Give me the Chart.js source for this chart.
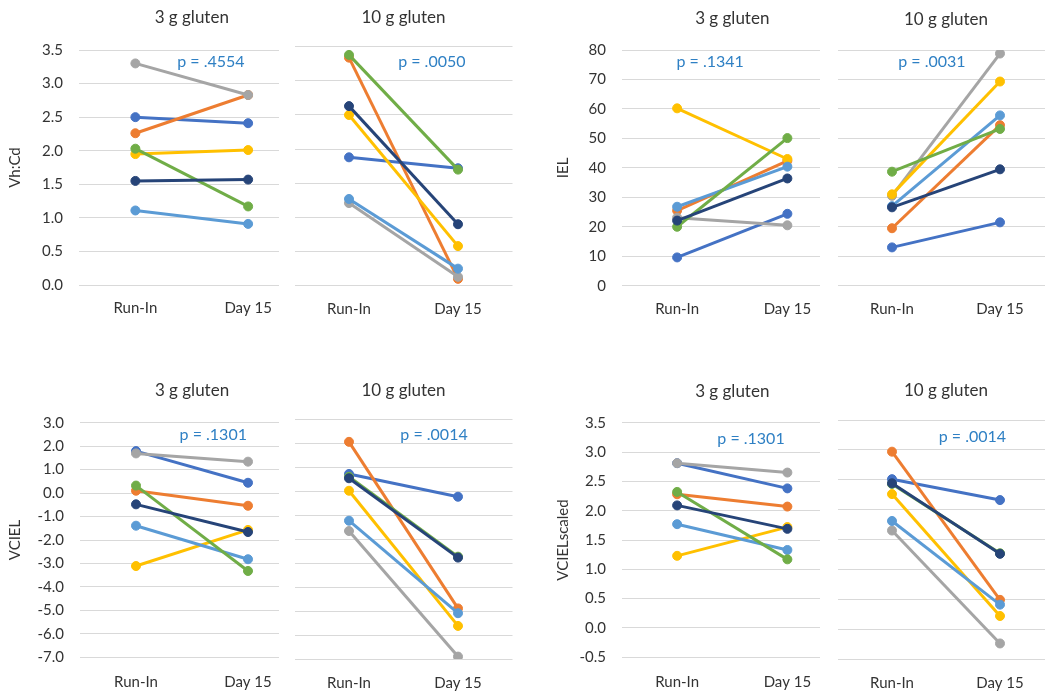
<!DOCTYPE html>
<html>
<head>
<meta charset="utf-8">
<script src="https://cdn.jsdelivr.net/npm/chart.js@4.4.0/dist/chart.umd.min.js"></script>
<style>
  body { margin: 0; width: 1045px; height: 694px; overflow: hidden; background: #fff; position: relative; }
  .box { position: absolute; background: #fff; }
  .box canvas { display: block; }
</style>
</head>
<body>
<div class="box" id="vhcd3"><canvas></canvas></div>
<div class="box" id="vhcd10"><canvas></canvas></div>
<div class="box" id="iel3"><canvas></canvas></div>
<div class="box" id="iel10"><canvas></canvas></div>
<div class="box" id="vciel3"><canvas></canvas></div>
<div class="box" id="vciel10"><canvas></canvas></div>
<div class="box" id="vcs3"><canvas></canvas></div>
<div class="box" id="vcs10"><canvas></canvas></div>
<script>
// categories
const days = ['Run-In', 'Day 15'];
const groups = ['3 g gluten', '10 g gluten'];

// subject order: blue, orange, gray, yellow, light blue, green, navy
const lineColors = ['#4472C4', '#ED7D31', '#A5A5A5', '#FFC000', '#5B9BD5', '#70AD47', '#264478'];

// Vh:Cd
const vhcd3RunIn  = [2.50, 2.26, 3.30, 1.95, 1.11, 2.03, 1.55];
const vhcd3Day15  = [2.41, 2.83, 2.83, 2.01, 0.91, 1.17, 1.57];
const vhcd10RunIn = [1.88, 3.34, 1.21, 2.50, 1.27, 3.38, 2.63];
const vhcd10Day15 = [1.72, 0.10, 0.13, 0.58, 0.25, 1.70, 0.90];

// IEL
const iel3RunIn  = [9.6, 25.5, 23.1, 60.2, 26.8, 20.0, 22.1];
const iel3Day15  = [24.4, 42.4, 20.5, 43.0, 40.4, 50.1, 36.4];
const iel10RunIn = [13.0, 19.5, 30.5, 31.0, 27.0, 38.7, 26.6];
const iel10Day15 = [21.5, 54.5, 78.8, 69.3, 57.8, 53.2, 39.5];

// VCIEL
const vciel3RunIn  = [1.79, 0.10, 1.69, -3.11, -1.39, 0.32, -0.48];
const vciel3Day15  = [0.44, -0.54, 1.34, -1.57, -2.82, -3.32, -1.66];
const vciel10RunIn = [0.72, 2.06, -1.66, 0.02, -1.23, 0.60, 0.54];
const vciel10Day15 = [-0.23, -4.89, -6.90, -5.62, -5.09, -2.73, -2.77];

// VCIELscaled
const vcs3RunIn  = [2.81, 2.28, 2.81, 1.23, 1.77, 2.32, 2.09];
const vcs3Day15  = [2.38, 2.07, 2.65, 1.72, 1.33, 1.17, 1.69];
const vcs10RunIn = [2.51, 2.97, 1.65, 2.26, 1.81, 2.43, 2.44];
const vcs10Day15 = [2.16, 0.49, -0.24, 0.22, 0.41, 1.27, 1.26];

// p values per measure (3 g, 10 g)
const pVhcd  = ['.4554', '.0050'];
const pIel   = ['.1341', '.0031'];
const pVciel = ['.1301', '.0014'];
const pVcs   = ['.1301', '.0014'];

const textColor = '#333333';
const pColor = '#2F80C4';
const fontFamily = 'Lato, "Open Sans", sans-serif';

const panelText = {
  id: 'panelText',
  afterDatasetsDraw(chart, args, opts) {
    const ctx = chart.ctx;
    const area = chart.chartArea;
    const xs = chart.scales.x, ys = chart.scales.y;
    ctx.save();
    ctx.textAlign = 'center';
    ctx.textBaseline = 'middle';
    ctx.font = '17px ' + fontFamily;
    ctx.fillStyle = textColor;
    ctx.fillText(opts.title, (area.left + area.right) / 2, opts.titleY);
    const x0 = xs.getPixelForValue(0), x1 = xs.getPixelForValue(1);
    ctx.font = '16px ' + fontFamily;
    ctx.fillStyle = pColor;
    ctx.fillText('p = ' + opts.p, x0 + opts.px * (x1 - x0), ys.getPixelForValue(opts.py));
    ctx.restore();
  }
};

function makeChart(id, box, runIn, day15, g, p, yOpts) {
  const el = document.getElementById(id);
  el.style.left = box.left + 'px';
  el.style.top = box.top + 'px';
  const canvas = el.querySelector('canvas');
  canvas.width = box.w;
  canvas.height = box.h;

  const datasets = lineColors.map(function(color, i) {
    return {
      data: [runIn[i], day15[i]],
      borderColor: color,
      backgroundColor: color,
      pointBackgroundColor: color,
      pointBorderColor: color,
      borderWidth: 3,
      pointRadius: 4.5,
      pointBorderWidth: 1,
      order: lineColors.length - 1 - i
    };
  });

  return new Chart(canvas.getContext('2d'), {
    type: 'line',
    data: { labels: days, datasets: datasets },
    plugins: [panelText],
    options: {
      responsive: false,
      animation: false,
      layout: { padding: { top: box.padTop, right: box.padRight, left: 0, bottom: 0 } },
      plugins: {
        legend: { display: false },
        tooltip: { enabled: false },
        panelText: { title: groups[g], titleY: box.titleY, p: p, px: box.px, py: box.py }
      },
      scales: {
        x: {
          type: 'category',
          offset: true,
          grid: { display: false, drawTicks: false },
          border: { display: false },
          ticks: { color: textColor, font: { family: fontFamily, size: 15 }, padding: box.xPad },
          afterFit: function(s) { s.height = box.xH; }
        },
        y: {
          min: yOpts.min,
          max: yOpts.max,
          grid: { color: '#D9D9D9', lineWidth: 1, drawTicks: false },
          border: { display: false },
          ticks: {
            display: g === 0,
            stepSize: yOpts.step,
            color: textColor,
            padding: 16,
            font: { family: fontFamily, size: 15 },
            callback: function(v) { return v.toFixed(yOpts.digits); }
          },
          title: {
            display: g === 0,
            text: yOpts.label,
            color: textColor,
            font: { family: fontFamily, size: 15 },
            padding: { top: 6, bottom: 0 }
          },
          afterFit: function(s) { s.width = box.yW; }
        }
      }
    }
  });
}

const vhcdY  = { min: 0, max: 3.5, step: 0.5, digits: 1, label: 'Vh:Cd' };
const ielY   = { min: 0, max: 80, step: 10, digits: 0, label: 'IEL' };
const vcielY = { min: -7, max: 3, step: 1, digits: 1, label: 'VCIEL' };
const vcsY   = { min: -0.5, max: 3.5, step: 0.5, digits: 1, label: 'VCIELscaled' };

makeChart('vhcd3', { left: 0, top: 0, w: 310, h: 330, padTop: 50, padRight: 5.5, yW: 79, xH: 45, xPad: 14, titleY: 18, px: 0.67, py: 3.32 },
  vhcd3RunIn, vhcd3Day15, 0, pVhcd[0], vhcdY);
makeChart('vhcd10', { left: 279, top: 0, w: 244, h: 330, padTop: 46.7, padRight: 10.5, yW: 15.5, xH: 44.3, xPad: 14, titleY: 18, px: 0.76, py: 3.28 },
  vhcd10RunIn, vhcd10Day15, 1, pVhcd[1], vhcdY);
makeChart('iel3', { left: 548, top: 0, w: 300, h: 330, padTop: 50, padRight: 2, yW: 74, xH: 44.3, xPad: 14, titleY: 19, px: 0.30, py: 75.9 },
  iel3RunIn, iel3Day15, 0, pIel[0], ielY);
makeChart('iel10', { left: 820, top: 0, w: 240, h: 330, padTop: 50, padRight: 6, yW: 18, xH: 44.3, xPad: 14, titleY: 20, px: 0.37, py: 75.9 },
  iel10RunIn, iel10Day15, 1, pIel[1], ielY);
makeChart('vciel3', { left: 0, top: 370, w: 310, h: 324, padTop: 52.7, padRight: 6, yW: 80, xH: 36.7, xPad: 15.5, titleY: 21, px: 0.69, py: 2.48 },
  vciel3RunIn, vciel3Day15, 0, pVciel[0], vcielY);
makeChart('vciel10', { left: 279, top: 370, w: 244, h: 324, padTop: 49.3, padRight: 10.5, yW: 15.5, xH: 35, xPad: 15.5, titleY: 21, px: 0.78, py: 2.35 },
  vciel10RunIn, vciel10Day15, 1, pVciel[1], vcielY);
makeChart('vcs3', { left: 548, top: 370, w: 300, h: 324, padTop: 52.7, padRight: 2, yW: 74, xH: 36.7, xPad: 15.5, titleY: 22, px: 0.67, py: 3.23 },
  vcs3RunIn, vcs3Day15, 0, pVcs[0], vcsY);
makeChart('vcs10', { left: 820, top: 370, w: 240, h: 324, padTop: 50, padRight: 6, yW: 18, xH: 35, xPad: 15.5, titleY: 21, px: 0.745, py: 3.22 },
  vcs10RunIn, vcs10Day15, 1, pVcs[1], vcsY);
</script>
</body>
</html>
